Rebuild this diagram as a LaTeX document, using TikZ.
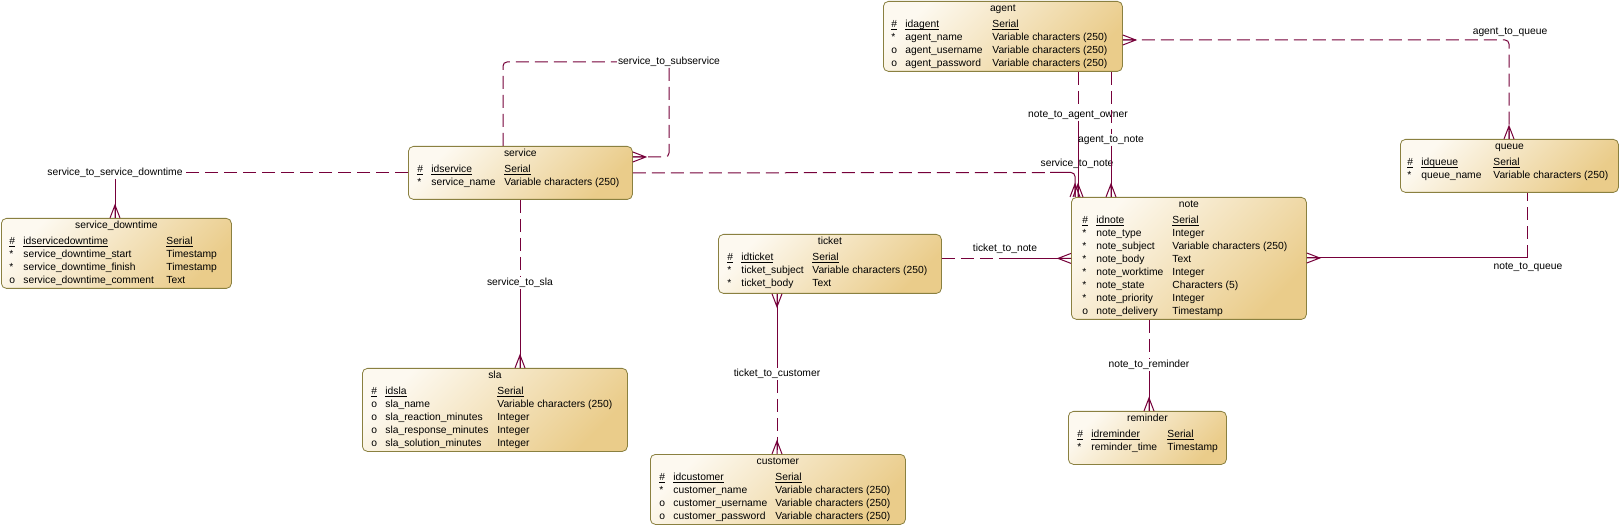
\documentclass[tikz,border=0pt]{standalone}
\usepackage{fontspec}
\setmainfont{Liberation Sans}

\definecolor{entline}{RGB}{138,128,64}
\definecolor{entlight}{RGB}{253,249,240}
\definecolor{entdark}{RGB}{234,204,138}
\definecolor{relcol}{RGB}{118,0,58}

\newcommand{\erfont}{\fontsize{10.3}{13}\selectfont}
% pad, name width, type width, rows
\newcommand{\ertab}[4]{\begin{tabular}{@{\hspace{#1}}p{14pt}@{}p{#2}@{}p{#3}@{}}#4\end{tabular}}
\newcommand{\ertitle}[1]{\multicolumn{3}{@{}c@{}}{#1}\\[3pt]}
\newcommand{\erkey}[2]{\underline{\smash{\#}} & \underline{\smash{#1}} & \underline{\smash{#2}}\\}

\begin{document}
\begin{tikzpicture}[x = 1pt, y = -1pt,
    entity/.style = {draw = entline, line width = 0.8pt, rounded corners = 5pt,
        top color = entlight, bottom color = entdark, shading angle = 45,
        anchor = north west, inner xsep = 0pt, inner ysep = 1pt, font = \erfont},
    rel/.style = {draw = relcol, line width = 1pt},
    optional/.style = {rel, rounded corners = 4pt, dash pattern = on 13pt off 6pt},
    mandatory/.style = {rel, rounded corners = 4pt},
    rellabel/.style = {inner sep = 1pt, font = \erfont},
    crow/.pic = {\draw [rel] (0, -5) -- (13, 0) -- (0, 5) (0, 0) -- (13, 0);}]
    \fill [white] (0, 0) rectangle (1620, 526);

    % entities
    \node [entity] (agent) at (883, 1) {\ertab{8pt}{87pt}{130pt}{\ertitle{agent}
        \erkey{idagent}{Serial}
        {*} & agent\_name & Variable characters (250)\\
        o & agent\_username & Variable characters (250)\\
        o & agent\_password & Variable characters (250)}};
    \node [entity] (service) at (408, 146) {\ertab{9pt}{73pt}{128pt}{\ertitle{service}
        \erkey{idservice}{Serial}
        {*} & service\_name & Variable characters (250)\\[9pt]}};
    \node [entity] (downtime) at (1, 218) {\ertab{8pt}{143pt}{65pt}{\ertitle{service\_downtime}
        \erkey{idservicedowntime}{Serial}
        {*} & service\_downtime\_start & Timestamp\\
        {*} & service\_downtime\_finish & Timestamp\\
        o & service\_downtime\_comment & Text}};
    \node [entity] (ticket) at (718, 234) {\ertab{9pt}{71pt}{129pt}{\ertitle{ticket}
        \erkey{idticket}{Serial}
        {*} & ticket\_subject & Variable characters (250)\\
        {*} & ticket\_body & Text\\[2pt]}};
    \node [entity] (note) at (1071, 197) {\ertab{11pt}{76pt}{134pt}{\ertitle{note}
        \erkey{idnote}{Serial}
        {*} & note\_type & Integer\\
        {*} & note\_subject & Variable characters (250)\\
        {*} & note\_body & Text\\
        {*} & note\_worktime & Integer\\
        {*} & note\_state & Characters (5)\\
        {*} & note\_priority & Integer\\
        o & note\_delivery & Timestamp}};
    \node [entity] (sla) at (362, 368) {\ertab{9pt}{112pt}{130pt}{\ertitle{sla}
        \erkey{idsla}{Serial}
        o & sla\_name & Variable characters (250)\\
        o & sla\_reaction\_minutes & Integer\\
        o & sla\_response\_minutes & Integer\\
        o & sla\_solution\_minutes & Integer}};
    \node [entity] (customer) at (650, 454) {\ertab{9pt}{102pt}{130pt}{\ertitle{customer}
        \erkey{idcustomer}{Serial}
        {*} & customer\_name & Variable characters (250)\\
        o & customer\_username & Variable characters (250)\\
        o & customer\_password & Variable characters (250)}};
    \node [entity] (reminder) at (1068, 411) {\ertab{9pt}{76pt}{59pt}{\ertitle{reminder}
        \erkey{idreminder}{Serial}
        {*} & reminder\_time & Timestamp\\[9pt]}};
    \node [entity] (queue) at (1400, 139) {\ertab{7pt}{72pt}{125pt}{\ertitle{queue}
        \erkey{idqueue}{Serial}
        {*} & queue\_name & Variable characters (250)\\[9pt]}};

    % service_to_subservice
    \node [rellabel] (lsubsvc) at (669, 62) {service\_to\_subservice};
    \coordinate (subsvc-a) at (503, 62);
    \coordinate (subsvc-b) at (669, 157);
    \draw [optional] (service.north -| subsvc-a) -- (subsvc-a) -- (lsubsvc.west);
    \draw [optional] (lsubsvc.south) -- (subsvc-b) -- (service.east |- subsvc-b);
    \pic at (service.east |- subsvc-b) {crow};

    % service_to_service_downtime
    \node [rellabel] (lsvcdown) at (115, 173) {service\_to\_service\_downtime};
    \draw [optional] (service.west) -- (service.west -| lsvcdown.east);
    \draw [mandatory] (lsvcdown.south) -- (lsvcdown.south |- downtime.north);
    \pic [rotate = 90] at (lsvcdown.south |- downtime.north) {crow};

    % service_to_sla
    \node [rellabel] (lsvcsla) at (520, 283) {service\_to\_sla};
    \draw [optional] (service.south -| lsvcsla) -- (lsvcsla.north);
    \draw [mandatory] (lsvcsla.south) -- (lsvcsla.south |- sla.north);
    \pic [rotate = 90] at (lsvcsla.south |- sla.north) {crow};

    % service_to_note
    \node [rellabel] (lsvcnote) at (1077, 164) {service\_to\_note};
    \coordinate (svcnote-a) at (1050, 172.5);
    \coordinate (svcnote-b) at (1075, 172.5);
    \draw [optional] (service.east) -- (svcnote-a);
    \draw [mandatory] (svcnote-a) -- (svcnote-b) -- (svcnote-b |- note.north);
    \pic [rotate = 90] at (svcnote-b |- note.north) {crow};

    % note_to_agent_owner
    \node [rellabel] (lowner) at (1078, 115) {note\_to\_agent\_owner};
    \draw [optional] (agent.south -| lowner) -- (lowner.north);
    \draw [mandatory] (lowner.south) -- (lowner.south |- note.north);
    \pic [rotate = 90] at (lowner.south |- note.north) {crow};

    % agent_to_note
    \node [rellabel] (lagentnote) at (1111, 140) {agent\_to\_note};
    \draw [optional] (agent.south -| lagentnote) -- (lagentnote.north);
    \draw [mandatory] (lagentnote.south) -- (lagentnote.south |- note.north);
    \pic [rotate = 90] at (lagentnote.south |- note.north) {crow};

    % agent_to_queue
    \node [rellabel] (lagentqueue) at (1510, 32) {agent\_to\_queue};
    \coordinate (agentqueue) at (1509, 40);
    \draw [optional] (agent.east |- agentqueue) -- (agentqueue) -- (agentqueue |- queue.north);
    \pic at (agent.east |- agentqueue) {crow};
    \pic [rotate = 90] at (agentqueue |- queue.north) {crow};

    % note_to_queue
    \node [rellabel] (lnotequeue) at (1528, 267) {note\_to\_queue};
    \coordinate (notequeue) at (1527, 258);
    \draw [mandatory] (note.east |- notequeue) -- (notequeue);
    \draw [optional] (notequeue) -- (notequeue |- queue.south);
    \pic at (note.east |- notequeue) {crow};

    % ticket_to_note
    \node [rellabel] (ltktnote) at (1005, 249) {ticket\_to\_note};
    \draw [optional] (ticket.east |- note.west) -- (ltktnote |- note.west);
    \draw [mandatory] (ltktnote |- note.west) -- (note.west);
    \pic [rotate = 180] at (note.west) {crow};

    % ticket_to_customer
    \node [rellabel] (ltktcust) at (777, 374) {ticket\_to\_customer};
    \draw [mandatory] (ticket.south -| ltktcust) -- (ltktcust.north);
    \draw [optional] (ltktcust.south) -- (ltktcust.south |- customer.north);
    \pic [rotate = -90] at (ticket.south -| ltktcust) {crow};
    \pic [rotate = 90] at (ltktcust.south |- customer.north) {crow};

    % note_to_reminder
    \node [rellabel] (lnoterem) at (1149, 365) {note\_to\_reminder};
    \draw [optional] (note.south -| lnoterem) -- (lnoterem.north);
    \draw [mandatory] (lnoterem.south) -- (lnoterem.south |- reminder.north);
    \pic [rotate = 90] at (lnoterem.south |- reminder.north) {crow};
\end{tikzpicture}
\end{document}
